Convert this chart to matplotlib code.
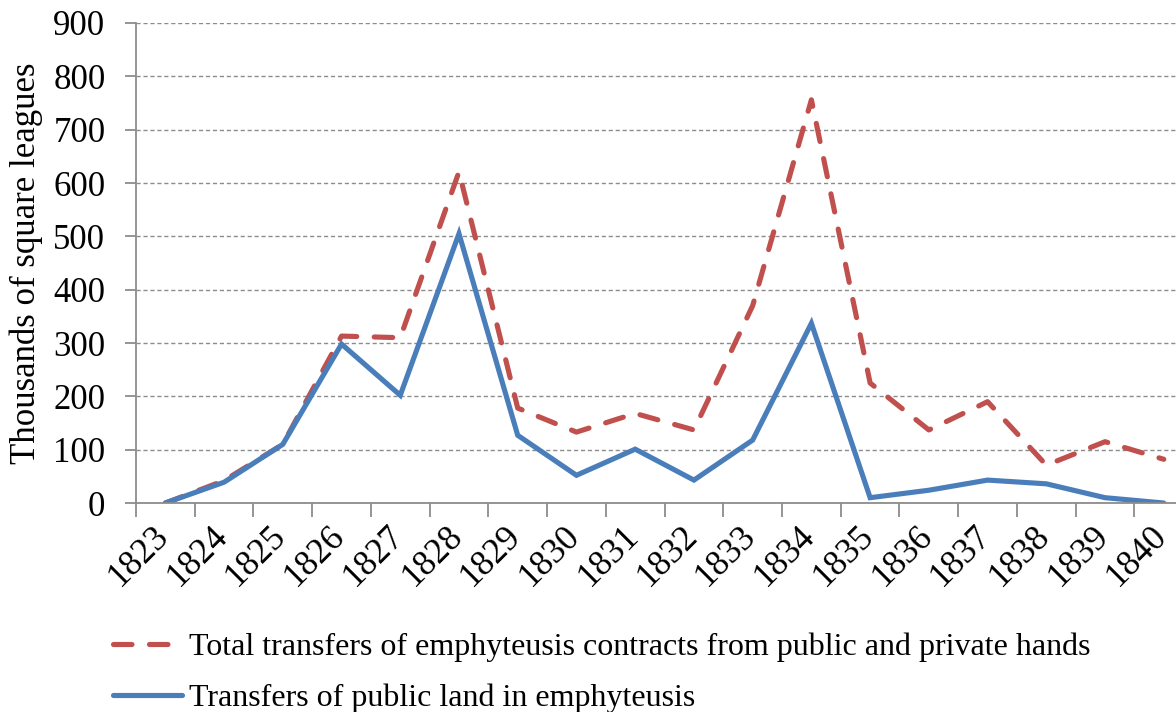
import matplotlib
matplotlib.use("Agg")
import matplotlib.pyplot as plt
import matplotlib.transforms as mtransforms
import numpy as np

# data (thousands of square leagues)
years = ["1823", "1824", "1825", "1826", "1827", "1828", "1829", "1830", "1831",
         "1832", "1833", "1834", "1835", "1836", "1837", "1838", "1839", "1840"]
total = [0, 42, 110, 313, 310, 621, 178, 133, 168, 137, 370, 756, 225, 137, 190, 71, 115, 82]
public = [0, 39, 110, 298, 202, 505, 127, 52, 101, 43, 118, 337, 10, 24, 43, 36, 10, 0]
yticks = [0, 100, 200, 300, 400, 500, 600, 700, 800, 900]

plt.rcParams['font.family'] = ['Liberation Serif', 'DejaVu Serif']

fig = plt.figure(figsize=(11.76, 7.12), dpi=100)
# plot area runs past the right edge of the picture, as in the reference
ax = fig.add_axes([0.1156, 0.2935, 0.899, 0.6742])

x = np.arange(len(years))
l1, = ax.plot(x, total, color='#c0504d', lw=3.7, ls=(0, (3.6, 3.4)),
              dash_capstyle='round', solid_capstyle='round',
              label="Total transfers of emphyteusis contracts from public and private hands")
l2, = ax.plot(x, public, color='#4a7ebb', lw=3.7, solid_capstyle='round',
              solid_joinstyle='miter',
              label="Transfers of public land in emphyteusis")

ax.set_xlim(-0.5, len(years) - 0.5)
ax.set_ylim(0, 900)
ax.set_yticks(yticks)
ax.set_yticklabels([str(v) for v in yticks], fontsize=25)
ax.yaxis.grid(True, color='#8c8c8c', ls=(0, (3, 2)), lw=1)
ax.set_axisbelow(True)

# tick marks between the categories, labels on the categories
ax.set_xticks(np.arange(-0.5, len(years), 1))
ax.set_xticklabels([])
ax.tick_params(axis='x', which='major', length=10, color='#8c8c8c', width=1.3)
ax.tick_params(axis='y', length=8, color='#8c8c8c', width=1.3, pad=14)

# rotated year labels, anchored just under each category
trans = mtransforms.blended_transform_factory(ax.transData, ax.transAxes)
trans = trans + mtransforms.ScaledTranslation(-13 / 100, -16 / 100, fig.dpi_scale_trans)
for xi, yr in zip(x, years):
    ax.text(xi, 0, yr, transform=trans, rotation=45, ha='right', va='top',
            rotation_mode='anchor', fontsize=25.5, clip_on=False)

for s in ['top', 'right']:
    ax.spines[s].set_visible(False)
for s in ['left', 'bottom']:
    ax.spines[s].set_color('#8c8c8c')
    ax.spines[s].set_linewidth(1.3)

ax.set_ylabel("Thousands of square leagues", fontsize=25)
ax.yaxis.set_label_coords(-0.088, 0.5)

fig.legend(handles=[l1, l2], loc='upper left', bbox_to_anchor=(0.096, 0.112),
           frameon=False, fontsize=23, handlelength=2.15, handletextpad=0.22,
           labelspacing=0.68, borderaxespad=0, borderpad=0)

fig.savefig("out.png", dpi=100)
